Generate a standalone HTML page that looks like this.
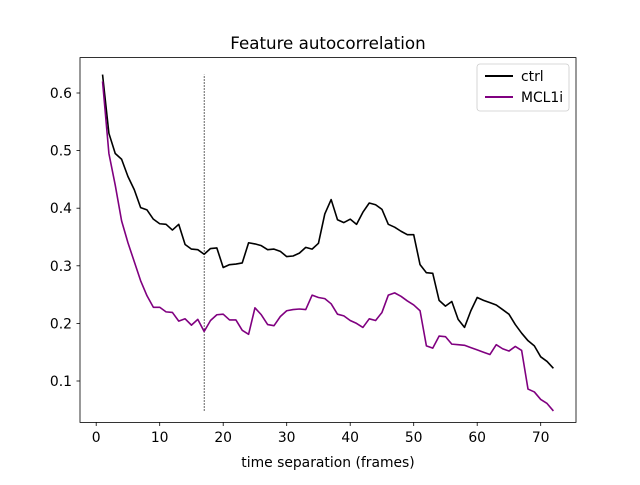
<!DOCTYPE html>
<html><head><meta charset="utf-8"><style>
body{margin:0;background:#fff;}
svg text{font-family:"DejaVu Sans","Liberation Sans",sans-serif;}
</style></head><body>
<svg id="chart" width="640" height="480" viewBox="0 0 640 480" xmlns="http://www.w3.org/2000/svg">
<rect width="640" height="480" fill="#fff"/>
<text x="328" y="49" font-size="16.7" text-anchor="middle">Feature autocorrelation</text>
<g id="plot"></g>
<rect x="80" y="57.6" width="496" height="364.8" fill="none" stroke="#000" stroke-width="0.8"/>
<text x="328" y="467" font-size="13.9" text-anchor="middle">time separation (frames)</text>
<g>
<rect x="477" y="64" width="92" height="47" rx="3" fill="#fff" stroke="#ccc" stroke-width="0.8"/>
<line x1="485" y1="76" x2="513" y2="76" stroke="#000" stroke-width="2"/>
<text x="521" y="81" font-size="13.9">ctrl</text>
<line x1="485" y1="97" x2="513" y2="97" stroke="#800080" stroke-width="2"/>
<text x="521" y="102" font-size="13.9">MCL1i</text>
</g>
</svg>
<script>
const xTicks=[0,10,20,30,40,50,60,70];
const yTicks=[0.1,0.2,0.3,0.4,0.5,0.6];
const ctrl=[0.632,0.53,0.495,0.485,0.455,0.432,0.401,0.397,0.381,0.373,0.372,0.362,0.372,0.337,0.329,0.328,0.32,0.33,0.331,0.297,0.302,0.303,0.305,0.34,0.338,0.335,0.328,0.329,0.325,0.316,0.317,0.322,0.332,0.329,0.339,0.39,0.415,0.38,0.375,0.381,0.372,0.393,0.409,0.406,0.398,0.372,0.367,0.36,0.354,0.354,0.302,0.288,0.287,0.24,0.23,0.238,0.207,0.193,0.222,0.245,0.24,0.236,0.232,0.224,0.216,0.198,0.183,0.17,0.161,0.142,0.134,0.122];
const mcl1i=[0.62,0.495,0.44,0.378,0.34,0.307,0.274,0.248,0.228,0.228,0.22,0.219,0.204,0.208,0.197,0.207,0.186,0.205,0.215,0.216,0.206,0.206,0.188,0.181,0.227,0.215,0.198,0.196,0.212,0.222,0.224,0.225,0.224,0.249,0.245,0.243,0.234,0.216,0.213,0.205,0.2,0.193,0.208,0.205,0.219,0.249,0.253,0.247,0.239,0.232,0.222,0.161,0.157,0.178,0.177,0.164,0.163,0.162,0.158,0.154,0.15,0.146,0.163,0.156,0.152,0.16,0.153,0.086,0.081,0.068,0.061,0.048];
const vlineX=17;
const vlineRange=[0.048,0.632];
const NS="http://www.w3.org/2000/svg";
const X=v=>96.2+v*6.35;
const Y=v=>93+(0.6-v)*576;
const g=document.getElementById('plot');
function mk(tag,attrs){const e=document.createElementNS(NS,tag);for(const k in attrs)e.setAttribute(k,attrs[k]);g.appendChild(e);return e;}
xTicks.forEach(t=>{
 const l=mk('line',{x1:X(t),x2:X(t),y1:422.4,y2:426,stroke:'#000','stroke-width':0.8});
 
 
 const tx=mk('text',{x:X(t),y:442,'font-size':13.9,'text-anchor':'middle'});tx.textContent=t;
 
 
});
yTicks.forEach(t=>{
 const l=mk('line',{x1:76.5,x2:80,y1:Y(t),y2:Y(t),stroke:'#000','stroke-width':0.8});
 
 
 const tx=mk('text',{x:72,y:Y(t)+5,'font-size':13.9,'text-anchor':'end'});tx.textContent=t.toFixed(1);
 
 
});
const vl=mk('line',{x1:X(vlineX),x2:X(vlineX),y1:Y(vlineRange[0]),y2:Y(vlineRange[1]),stroke:'#000','stroke-width':0.6,'stroke-dasharray':'2,1'});


function series(arr,color,name){
 const p=mk('polyline',{points:arr.map((v,i)=>X(i+1)+','+Y(v)).join(' '),fill:'none',stroke:color,'stroke-width':1.6,'stroke-linejoin':'round'});
 
 
}
series(ctrl,'#000','ctrl-line');
series(mcl1i,'#800080','mcl1i-line');
</script>
</body></html>
